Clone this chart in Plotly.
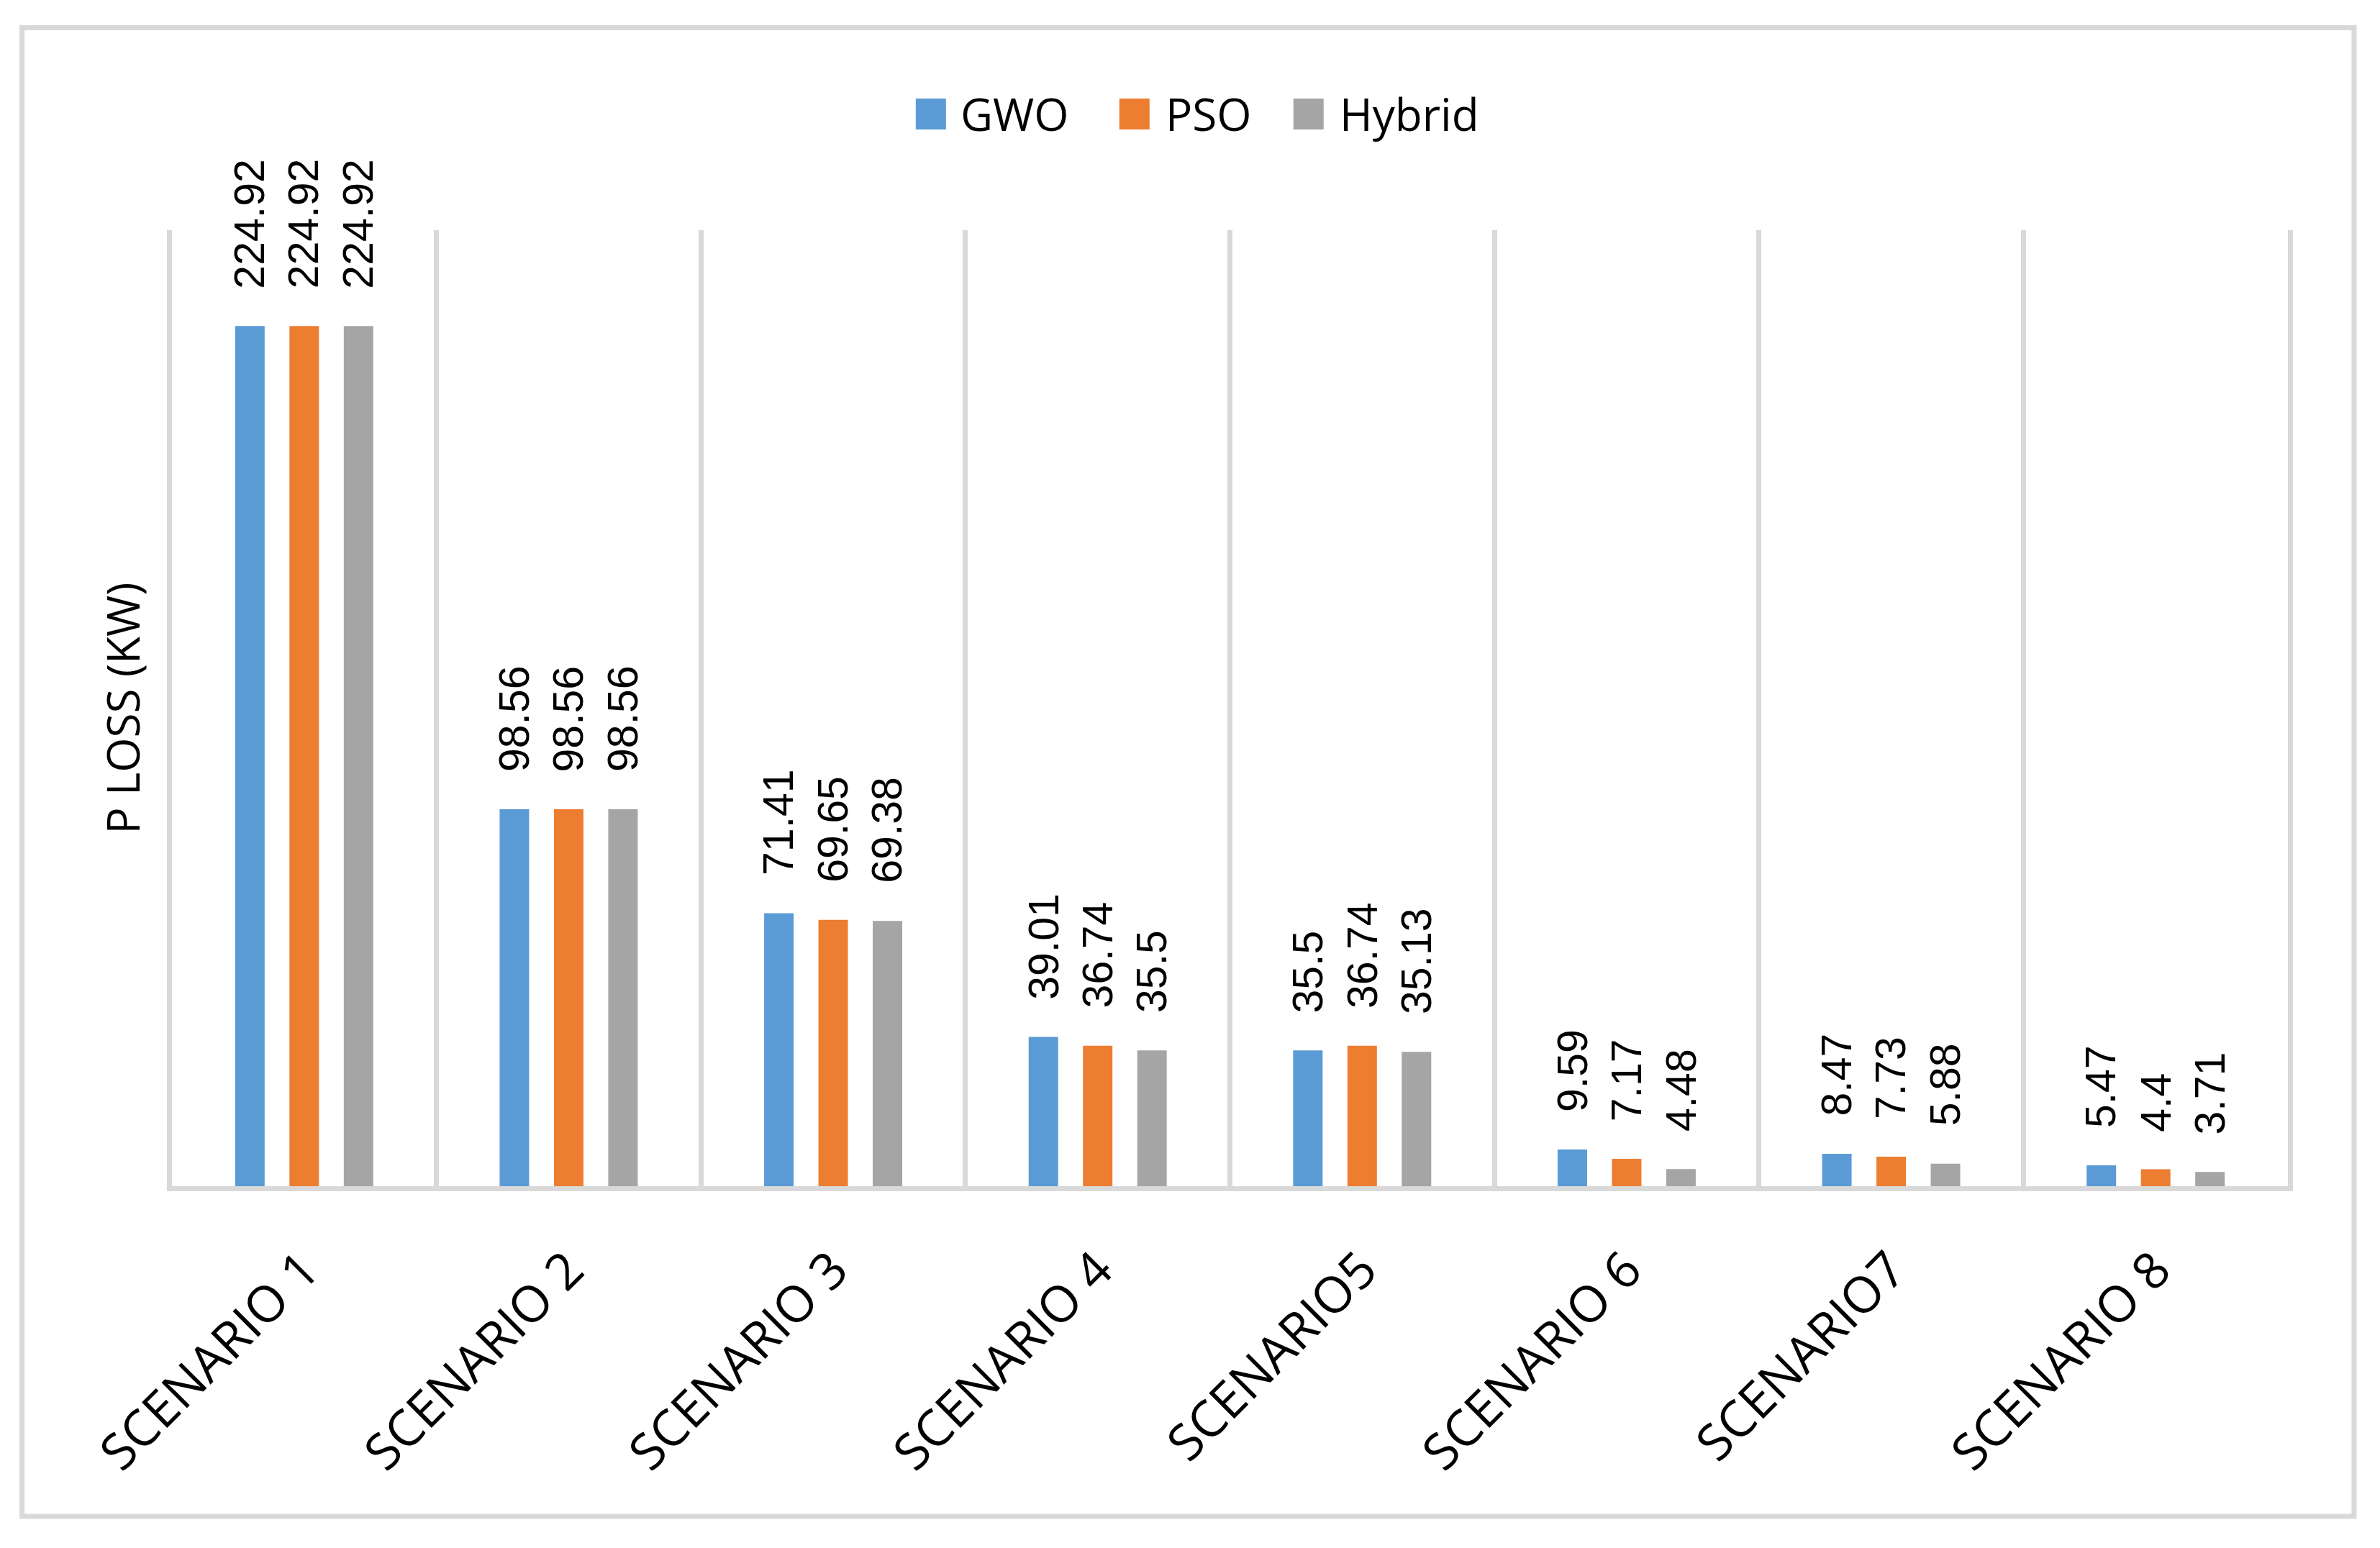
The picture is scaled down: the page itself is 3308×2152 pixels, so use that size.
import plotly.graph_objects as go

# ---- data ----
categories = ["SCENARIO 1", "SCENARIO 2", "SCENARIO 3", "SCENARIO 4",
              "SCENARIO5", "SCENARIO 6", "SCENARIO7", "SCENARIO 8"]
series_names = ["GWO", "PSO", "Hybrid"]
gwo = [224.92, 98.56, 71.41, 39.01, 35.5, 9.59, 8.47, 5.47]
pso = [224.92, 98.56, 69.65, 36.74, 36.74, 7.17, 7.73, 4.4]
hybrid = [224.92, 98.56, 69.38, 35.5, 35.13, 4.48, 5.88, 3.71]
y_title = "P LOSS (KW)"
y_range = [0, 250]

# ---- styling / layout ----
colors = ["#5B9BD5", "#ED7D31", "#A5A5A5"]
W, H = 3308, 2152
L, R, T, B = 239, 3180.5, 320, 1649
bargap = 0.384
bargroupgap = 0.457
grid_col = "#D9D9D9"
label_font = dict(family="Liberation Sans, Arial, sans-serif", size=59, color="#000000")
text_font = dict(family="Open Sans, sans-serif", size=62, color="#000000")


def px_x(x):
    return (x - L) / (R - L)


def px_y(y):
    return (B - y) / (B - T)


fig = go.Figure()
all_series = [gwo, pso, hybrid]
for name, vals, col in zip(series_names, all_series, colors):
    fig.add_trace(go.Bar(name=name, x=categories, y=vals,
                         marker=dict(color=col, line=dict(width=0)),
                         showlegend=False))

# data labels (rotated, above bars)
slot = (1 - bargap) / 3
annotations = []
for j, vals in enumerate(all_series):
    for i, v in enumerate(vals):
        annotations.append(dict(
            x=i + (j - 1) * slot, y=v, xref="x", yref="y",
            text=f"{v:g}", showarrow=False, textangle=-90,
            xanchor="center", yanchor="bottom", yshift=50,
            font=label_font))

# manual legend
legend_sq = [(1273, 1315), (1556, 1598), (1798, 1840)]
legend_text_x = [1333, 1618, 1860]
shapes = []
for (x0, x1), tx, name, col in zip(legend_sq, legend_text_x, series_names, colors):
    shapes.append(dict(type="rect", xref="paper", yref="paper",
                       x0=px_x(x0), x1=px_x(x1), y0=px_y(180), y1=px_y(137),
                       fillcolor=col, line=dict(width=0)))
    annotations.append(dict(x=px_x(tx), y=px_y(158), xref="paper", yref="paper",
                            text=name, showarrow=False, xanchor="left",
                            yanchor="middle", font=text_font))

# outer chart border
shapes.append(dict(type="rect", xref="paper", yref="paper",
                   x0=px_x(30.5), x1=px_x(3272.5), y0=px_y(2108), y1=px_y(38.5),
                   line=dict(color=grid_col, width=7), fillcolor="rgba(0,0,0,0)",
                   layer="below"))

fig.update_layout(
    width=W, height=H,
    margin=dict(l=L, r=W - R, t=T, b=H - B, autoexpand=False),
    paper_bgcolor="white", plot_bgcolor="white",
    barmode="group", bargap=bargap, bargroupgap=bargroupgap,
    showlegend=False,
    shapes=shapes, annotations=annotations,
    xaxis=dict(type="category", showgrid=True, gridcolor=grid_col, gridwidth=7,
               tickson="boundaries", ticks="", showline=True, linecolor=grid_col,
               linewidth=7, tickangle=-45,
               tickfont=dict(family="Open Sans, sans-serif", size=70, color="#000000"),
               ticklabelstandoff=40, zeroline=False),
    yaxis=dict(range=y_range, showticklabels=False, showgrid=False, zeroline=False,
               showline=True, mirror=True, linecolor=grid_col, linewidth=7, ticks="",
               title=dict(text=y_title, font=text_font, standoff=20)),
)

fig.write_html("out.html", config={"displayModeBar": False},
               post_script="document.body.style.margin='0';document.body.style.overflow='hidden';")
